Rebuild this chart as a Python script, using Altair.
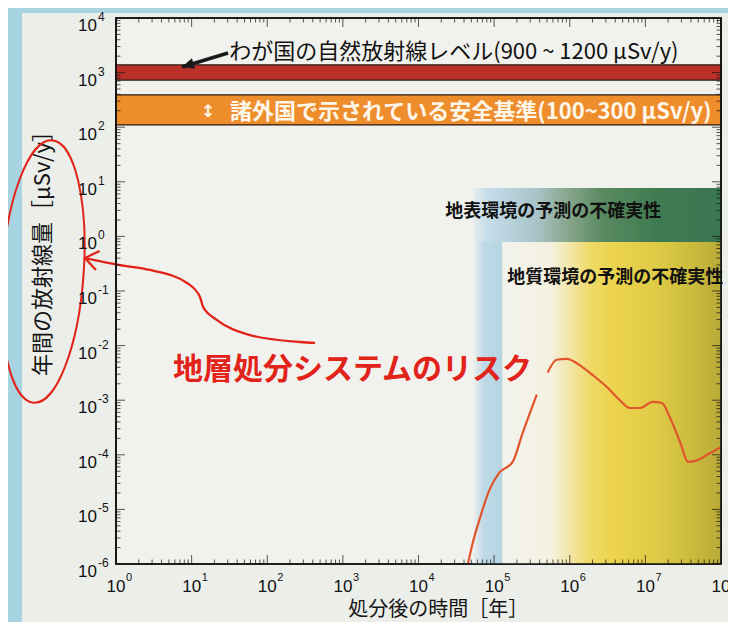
import altair as alt
import pandas as pd

FONT_JP = "Noto Sans CJK JP"
FONT_NUM = "Liberation Sans"

# ---- data (time after disposal [years], annual dose [uSv/y]) ----
early_t = [4.5e4, 5.2e4, 6.4e4, 8.7e4, 1.17e5, 1.76e5, 2.38e5, 3.66e5]
early_d = [1.0e-6, 2.4e-6, 6.5e-6, 2.3e-5, 4.7e-5, 7.4e-5, 2.5e-4, 1.26e-3]
late_t = [5.1e5, 6.7e5, 9.1e5, 1.35e6, 2.0e6, 3.1e6, 4.6e6, 6.2e6, 8.5e6,
          1.26e7, 1.66e7, 2.1e7, 2.9e7, 3.66e7, 4.8e7, 7.1e7, 1.0e8]
late_d = [3.2e-3, 5.5e-3, 5.7e-3, 4.4e-3, 2.9e-3, 1.74e-3, 1.0e-3, 7.2e-4, 7.2e-4,
          9.3e-4, 8.9e-4, 4.9e-4, 1.66e-4, 7.4e-5, 7.9e-5, 1.07e-4, 1.38e-4]

natural_band = [730, 1380]
safety_band = [110, 390]

surface_zone_t = [5.3e4, 1.0e8]
surface_zone_d = [0.79, 7.7]
strip_t = [5.3e4, 1.28e5]
geo_zone_t = [1.28e5, 1.0e8]
zone_floor = 1e-6

x_exps = list(range(0, 9))
y_exps = list(range(-6, 5))

# annotation path (data coordinates)
note_t = [0.389, 1.13, 2.82, 8.69, 12.9, 14.2, 21.7, 59.2, 272, 429]
note_d = [0.402, 0.299, 0.243, 0.140, 0.0776, 0.0509, 0.0294, 0.0156, 0.01164, 0.01117]
black_arrow_t = [30.3, 7.46]
black_arrow_d = [2286, 1268]

TXT_NATURAL = "わが国の自然放射線レベル(900 ~ 1200 μSv/y)"
TXT_SAFETY = "諸外国で示されている安全基準(100~300 μSv/y)"
TXT_SURFACE = "地表環境の予測の不確実性"
TXT_GEO = "地質環境の予測の不確実性"
TXT_RISK = "地層処分システムのリスク"
X_TITLE = "処分後の時間［年］"
Y_TITLE = "年間の放射線量［μSv/y］"

X_MIN, X_MAX = 1, 1e8
Y_MIN, Y_MAX = 1e-6, 1e4

xs = alt.Scale(type="log", domain=[X_MIN, X_MAX], nice=False)
ys = alt.Scale(type="log", domain=[Y_MIN, Y_MAX], nice=False)


def X(f):
    return alt.X(f"{f}:Q", scale=xs, axis=None)


def Y(f):
    return alt.Y(f"{f}:Q", scale=ys, axis=None)


def grad(stops):
    return {"gradient": "linear", "x1": 0, "x2": 1, "y1": 0, "y2": 0,
            "stops": [{"offset": o, "color": c} for o, c in stops]}


def rect_df(x1, x2, y1, y2):
    return pd.DataFrame({"a": x1, "b": x2, "c": y1, "e": y2})


layers = []

# page-edge blue strips (outside the plot)
edge = rect_df([0.0372, 0.0372], [0.0571, 1.6e8], [7.6e-8, 12330], [15240, 15240])
layers.append(alt.Chart(edge).mark_rect(color="#a7d4e0", clip=False).encode(
    x=X("a"), x2="b:Q", y=Y("c"), y2="e:Q"))

# geological-environment uncertainty (yellow)
geo = rect_df([geo_zone_t[0]], [geo_zone_t[1]], [zone_floor], [surface_zone_d[0]])
layers.append(alt.Chart(geo).mark_rect(color=grad([
    (0.0, "#f3f3ee"), (0.22, "#f4f1e0"), (0.30, "#f3e7ae"), (0.40, "#f0da68"),
    (0.50, "#ecd44e"), (0.70, "#e0cb46"), (0.85, "#cdbd3e"), (1.0, "#b9aa38")])).encode(
    x=X("a"), x2="b:Q", y=Y("c"), y2="e:Q"))

# blue strip
strip = rect_df([strip_t[0]], [strip_t[1]], [zone_floor], [surface_zone_d[0]])
layers.append(alt.Chart(strip).mark_rect(color=grad([
    (0.0, "#eef0ee"), (0.35, "#bfd9e6"), (1.0, "#b6d4e3")])).encode(
    x=X("a"), x2="b:Q", y=Y("c"), y2="e:Q"))

# surface-environment uncertainty (green band)
surf = rect_df([surface_zone_t[0]], [surface_zone_t[1]], [surface_zone_d[0]], [surface_zone_d[1]])
layers.append(alt.Chart(surf).mark_rect(color=grad([
    (0.0, "#e6ecec"), (0.06, "#c4dce8"), (0.12, "#bcd6e2"), (0.25, "#aac4ca"),
    (0.38, "#88a78c"), (0.52, "#5a8a62"), (0.75, "#3f7b50"), (1.0, "#3a7752")])).encode(
    x=X("a"), x2="b:Q", y=Y("c"), y2="e:Q"))

# natural radiation band & safety standard band
bands = pd.DataFrame({"a": [X_MIN, X_MIN], "b": [X_MAX, X_MAX],
                      "c": [natural_band[0], safety_band[0]],
                      "e": [natural_band[1], safety_band[1]],
                      "k": ["natural", "safety"]})
layers.append(alt.Chart(bands).mark_rect(stroke="#2a1810", strokeWidth=1.3).encode(
    x=X("a"), x2="b:Q", y=Y("c"), y2="e:Q",
    color=alt.Color("k:N", scale=alt.Scale(domain=["natural", "safety"],
                                           range=["#bb3129", "#ee8d2c"]), legend=None)))


def text_layer(t, d, s, **kw):
    df = pd.DataFrame({"t": [t], "d": [d], "s": [s]})
    return alt.Chart(df).mark_text(**kw).encode(x=X("t"), y=Y("d"), text="s:N")


layers.append(text_layer(31.4, 2383, TXT_NATURAL, align="left", baseline="middle",
                         font=FONT_JP, fontSize=22, color="#111111"))
layers.append(text_layer(16.5, 190, "↕", align="center", baseline="middle",
                         font="DejaVu Sans", fontSize=17, fontWeight="bold", color="#fff6ea"))
layers.append(text_layer(32.2, 190, TXT_SAFETY, align="left", baseline="middle",
                         font=FONT_JP, fontSize=22, fontWeight="bold", color="#fff6ea"))
layers.append(text_layer(2.25e4, 2.80, TXT_SURFACE, align="left", baseline="middle",
                         font=FONT_JP, fontSize=18, fontWeight="bold", color="#111111"))
layers.append(text_layer(1.49e5, 0.173, TXT_GEO, align="left", baseline="middle",
                         font=FONT_JP, fontSize=18, fontWeight="bold", color="#111111"))
layers.append(text_layer(5.67, 0.00357, TXT_RISK, align="left", baseline="middle",
                         font=FONT_JP, fontSize=30, fontWeight="bold", color="#e2231a"))

# axis titles (as text marks)
layers.append(text_layer(0.108, 0.614, Y_TITLE, align="center", baseline="middle", angle=270,
                         font=FONT_JP, fontSize=22, color="#151515"))
layers.append(text_layer(1.82e4, Y_MIN, X_TITLE, align="center", baseline="middle", dy=46,
                         font=FONT_JP, fontSize=20, color="#151515"))

# risk curve
risk = pd.DataFrame({"t": early_t + late_t, "d": early_d + late_d,
                     "seg": ["a"] * len(early_t) + ["b"] * len(late_t)})
layers.append(alt.Chart(risk).mark_line(color="#e0552b", strokeWidth=2.2,
                                        interpolate="monotone", clip=True).encode(
    x=X("t"), y=Y("d"), detail="seg:N"))

# red annotation arrow
note = pd.DataFrame({"t": note_t, "d": note_d})
layers.append(alt.Chart(note).mark_line(color="#e2231a", strokeWidth=2.3,
                                        interpolate="monotone", clip=False).encode(
    x=X("t"), y=Y("d")))
layers.append(alt.Chart(note.iloc[[0]]).mark_point(
    shape="M 2 -1.5 L 0 0 L 2 1.5", filled=False, stroke="#e2231a", strokeWidth=2.3,
    size=169, angle=11, opacity=1, clip=False).encode(x=X("t"), y=Y("d")))

# red ellipse around the y title
ell = pd.DataFrame({"t": [0.108], "d": [0.2275]})
a, k = 0.31, 0.31 * 0.5523
ell_path = (f"M 0 -1 C {k} -1 {a} -0.5523 {a} 0 C {a} 0.5523 {k} 1 0 1 "
            f"C {-k} 1 {-a} 0.5523 {-a} 0 C {-a} -0.5523 {-k} -1 0 -1 Z")
layers.append(alt.Chart(ell).mark_point(
    shape=ell_path, filled=False, stroke="#e2231a", strokeWidth=2, size=69169,
    angle=4, opacity=1, clip=False).encode(x=X("t"), y=Y("d")))

# black arrow to natural band
barrow = pd.DataFrame({"t": black_arrow_t, "d": black_arrow_d})
layers.append(alt.Chart(barrow).mark_line(color="#1a1a1a", strokeWidth=3.5).encode(
    x=X("t"), y=Y("d")))
layers.append(alt.Chart(barrow.iloc[[1]]).mark_point(
    shape="M 0 0 L 2 -0.9 L 2 0.9 Z", filled=True, color="#1a1a1a", size=144,
    angle=343, opacity=1).encode(x=X("t"), y=Y("d")))

# inward ticks on all four sides
xt_rows = []
for kk in range(0, 9):
    for side in (Y_MIN, Y_MAX):
        xt_rows.append({"v": 10.0 ** kk, "p": side, "s": 18})
for kk in range(0, 8):
    for m in range(2, 10):
        for side in (Y_MIN, Y_MAX):
            xt_rows.append({"v": m * 10.0 ** kk, "p": side, "s": 9})
yt_rows = []
for kk in range(-6, 5):
    for side in (X_MIN, X_MAX):
        yt_rows.append({"v": 10.0 ** kk, "p": side, "s": 18})
for kk in range(-6, 4):
    for m in range(2, 10):
        for side in (X_MIN, X_MAX):
            yt_rows.append({"v": m * 10.0 ** kk, "p": side, "s": 9})
layers.append(alt.Chart(pd.DataFrame(xt_rows)).mark_tick(
    orient="vertical", thickness=1, color="#111111", clip=True).encode(
    x=X("v"), y=Y("p"), size=alt.Size("s:Q", scale=None)))
layers.append(alt.Chart(pd.DataFrame(yt_rows)).mark_tick(
    orient="horizontal", thickness=1, color="#111111", clip=True).encode(
    x=X("p"), y=Y("v"), size=alt.Size("s:Q", scale=None)))

# frame
frame = rect_df([X_MIN], [X_MAX], [Y_MIN], [Y_MAX])
layers.append(alt.Chart(frame).mark_rect(filled=False, stroke="#111111", strokeWidth=1.6).encode(
    x=X("a"), x2="b:Q", y=Y("c"), y2="e:Q"))

# tick labels 10^k
xl = pd.DataFrame({"v": [10.0 ** e for e in x_exps], "p": [Y_MIN] * len(x_exps),
                   "base": ["10"] * len(x_exps), "e": [str(e) for e in x_exps]})
layers.append(alt.Chart(xl).mark_text(align="center", baseline="middle", dy=23,
                                      font=FONT_NUM, fontSize=17, color="#111111").encode(
    x=X("v"), y=Y("p"), text="base:N"))
layers.append(alt.Chart(xl).mark_text(align="left", baseline="middle", dx=10, dy=14,
                                      font=FONT_NUM, fontSize=11, color="#111111").encode(
    x=X("v"), y=Y("p"), text="e:N"))
yl = pd.DataFrame({"v": [10.0 ** e for e in y_exps], "p": [X_MIN] * len(y_exps),
                   "base": ["10"] * len(y_exps), "e": [str(e) for e in y_exps]})
layers.append(alt.Chart(yl).mark_text(align="right", baseline="middle", dx=-19, dy=8,
                                      font=FONT_NUM, fontSize=17, color="#111111").encode(
    x=X("p"), y=Y("v"), text="base:N"))
layers.append(alt.Chart(yl).mark_text(align="left", baseline="middle", dx=-18, dy=-1,
                                      font=FONT_NUM, fontSize=12, color="#111111").encode(
    x=X("p"), y=Y("v"), text="e:N"))

chart = alt.layer(*layers).properties(
    width=605, height=546,
    autosize=alt.AutoSizeParams(type="none"),
    padding={"left": 108, "top": 10, "right": 7, "bottom": 58},
    background="#eceeea",
).configure_view(stroke="#111111", strokeWidth=1.6, fill="#f1f1ed")

chart.save("out.html", embed_options={"renderer": "svg", "actions": False})
